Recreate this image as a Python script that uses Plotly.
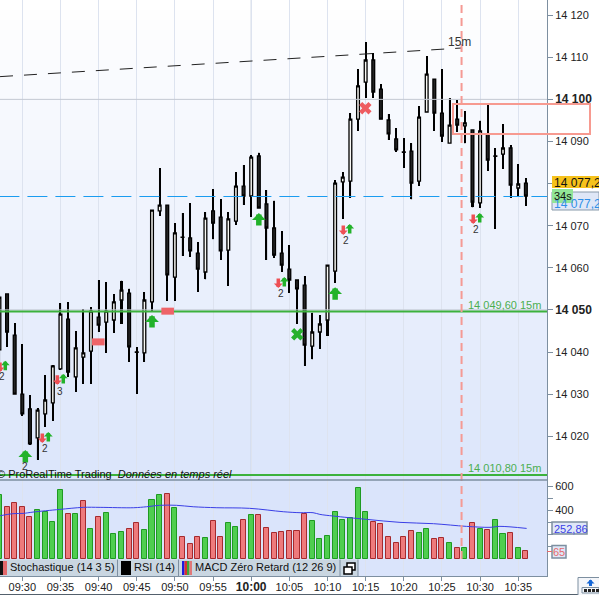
import plotly.graph_objects as go

# minutes since 09:30 for the first bar (one bar per minute)
first_minute = -3
# candles, prices are offset from 14000
high  = [53.5,53.8,46.9,41.9,29.8,26.7,34.5,36.9,51.6,51.9,45.0,50.2,50.7,57.1,56.6,53.8,56.9,55.0,41.2,54.25,73.7,83.7,74.9,70.6,73.0,75.4,66.1,73.25,78.7,76.3,73.25,82.75,84.4,86.8,87.3,78.5,75.9,68.7,65.4,57.1,58.05,49.3,48.8,60.65,80.85,82.75,96.75,107.2,113.6,111.0,103.65,96.5,93.2,90.8,89.6,98.4,110.3,104.8,107.2,100.3,99.85,97.25,92.75,94.9,99.15,88.45,94.15,89.15,84.65,81.3]
body_top = [53.0,53.8,44.0,30.0,26.5,26.2,28.6,36.7,49.0,47.8,41.0,39.8,49.7,48.3,49.7,51.9,54.7,54.0,40.0,52.35,73.7,74.9,74.9,68.3,67.3,67.1,63.5,71.8,73.5,72.05,71.6,79.4,79.4,86.3,86.55,75.15,69.45,63.5,59.7,57.1,55.9,44.75,46.65,60.65,80.1,81.55,95.3,103.2,109.35,109.35,102.45,95.1,90.6,87.5,87.7,95.8,106.0,104.8,96.75,93.9,95.3,94.4,92.75,92.5,91.8,86.55,88.45,88.45,79.9,80.1]
body_bot = [40.5,44.75,30.0,25.3,18.2,19.6,25.3,27.9,36.0,35.25,34.1,38.8,40.2,46.4,47.1,47.6,52.35,41.2,39.9,39.8,51.9,73.5,58.3,57.8,67.2,64.0,59.7,59.0,70.6,64.0,64.2,71.1,77.05,77.05,74.2,69.45,63.0,60.65,57.1,55.0,41.65,41.4,44.75,47.6,59.2,80.4,80.6,95.3,104.1,101.75,95.3,91.8,88.0,87.4,80.1,80.6,97.0,96.75,91.3,89.6,93.9,93.7,75.6,75.4,85.6,86.45,87.0,79.65,78.95,77.05]
low   = [35.0,41.2,30.0,24.8,17.9,14.4,22.2,23.6,35.7,34.1,30.5,32.4,32.4,44.75,39.8,44.5,46.65,37.6,30.0,37.6,49.5,72.3,52.1,52.1,62.8,62.6,54.25,57.3,66.8,61.85,55.7,70.2,74.9,72.05,74.2,61.85,62.3,59.0,54.0,46.65,36.7,38.3,40.7,43.8,56.4,71.6,76.6,92.5,100.3,100.3,95.3,90.35,87.5,83.7,76.3,79.4,97.0,92.5,89.9,89.6,92.25,89.6,74.4,74.2,83.0,69.2,83.45,76.6,77.05,74.7]
# 1 = white (rising) candle, 0 = black (falling) candle
rising = [1,0,0,0,0,1,1,1,1,0,1,1,1,0,1,1,1,0,1,1,1,1,0,1,1,0,0,1,0,0,1,1,0,1,0,0,0,0,0,0,0,1,1,1,1,1,1,1,1,0,0,0,0,1,0,1,1,0,0,1,0,1,0,1,0,1,1,0,1,0]

volume = [529,427,460,427,344,402,391,303,568,369,369,477,245,344,377,204,220,245,295,237,488,526,534,419,179,121,179,171,311,179,295,262,320,361,361,253,212,220,229,229,369,311,163,187,386,320,336,584,386,303,287,179,129,179,229,212,245,163,171,129,88,88,295,245,237,320,204,212,88,65]
vol_up = [1,0,0,0,0,1,1,1,1,0,1,0,1,0,1,1,1,0,0,1,1,1,0,1,0,0,0,1,0,0,1,1,0,1,0,0,0,0,0,0,0,1,1,1,1,1,1,1,1,0,0,0,0,0,0,1,1,0,0,1,0,1,0,1,0,1,1,0,1,0]
ma_minute = [-2.9,-1.2,0.1,1.4,4.9,8.0,10.2,14.6,16.3,18.0,20.2,22.4,25.5,29.8,34.2,36.4,38.1,39.0,40.8,45.1,49.5,53.9,58.2,61.3,62.6,66.1]
ma_value  = [358,375,377,388,410,427,427,424,432,444,444,432,424,419,391,383,383,369,355,328,303,292,270,262,270,253]

# trend line, levels
trend_minute = [-2.92, 57.56]
trend_price = [14105.4, 14112.2]
level_high = 14049.6
level_low = 14010.8
last_price = 14076.93
gray_levels = [14100, 14050]
box_prices = [14091.75, 14098.9]
cursor_minute = 57.0

# signal markers: minute, price
big_up_m = [0.4, 17, 31, 41]
big_up_p = [14016.7, 14048.8, 14073.0, 14055.4]
small_up_m = [-2.23, 5.37, 3.41, 34.34, 42.91, 59.95]
small_up_p = [14037.9, 14034.8, 14021.0, 14057.8, 14070.4, 14073.0]
small_dn_m = [-2.92, 4.59, 2.62, 33.55, 42.07, 59.1]
small_dn_p = [14035.25, 14032.2, 14018.4, 14055.2, 14067.8, 14070.4]
count_m = [-2.7, 4.94, 3.01, 33.94, 42.46, 59.5, 0.4]
count_p = [14034.1, 14030.7, 14017.0, 14053.85, 14066.4, 14069.05, 14012.7]
count_txt = ["2", "3", "2", "2", "2", "2", "2"]
cross_red = (44.96, 14097.9)
cross_green = (36.04, 14044.2)
ticket_m = [9.96, 19.05]
ticket_p = [14042.4, 14049.7]

time_minutes = list(range(0, 70, 5))
time_labels = ["09:30","09:35","09:40","09:45","09:50","09:55","10:00","10:05","10:10","10:15","10:20","10:25","10:30","10:35"]
price_ticks = [14120,14110,14100,14090,14080,14070,14060,14050,14040,14030,14020]
price_labels = ["14 120","14 110","14 100","14 090","","14 070","14 060","14 050","14 040","14 030","14 020"]
vol_ticks = [600,500,400,300,200,100]
vol_labels = ["600","","400","","",""]

W, H = 599, 595
PLOT_R = 547
MAIN_B, VOL_B = 480, 576
FONT = "Liberation Sans"
px = lambda v: v / W
py = lambda v: 1 - v / H

minutes = [first_minute + i for i in range(len(high))]
opens = [14000 + (b if r else t) for t, b, r in zip(body_top, body_bot, rising)]
closes = [14000 + (t if r else b) for t, b, r in zip(body_top, body_bot, rising)]

fig = go.Figure()

fig.add_trace(go.Bar(x=minutes, y=volume, xaxis="x2", yaxis="y2", width=0.66,
                     marker=dict(color=["#4fce4f" if u else "#ee7a7c" for u in vol_up],
                                 line=dict(color=["#1f9a22" if u else "#a52a2e" for u in vol_up], width=1))))
fig.add_trace(go.Scatter(x=ma_minute, y=ma_value, xaxis="x2", yaxis="y2", mode="lines",
                         line=dict(color="#3a3fe6", width=1, shape="spline")))

# wicks: thin bars drawn under the candle bodies
fig.add_trace(go.Bar(x=minutes, base=[14000 + v for v in low], y=[h - l for h, l in zip(high, low)],
                     width=0.27, marker=dict(color="#000", line=dict(width=0)), xaxis="x", yaxis="y"))
fig.add_trace(go.Candlestick(x=minutes, open=opens, close=closes,
                             high=[14000 + v for v in high], low=[14000 + v for v in low],
                             whiskerwidth=0,
                             increasing=dict(fillcolor="#f8f8f4", line=dict(color="#000", width=1.3)),
                             decreasing=dict(fillcolor="#242424", line=dict(color="#000", width=1.3)),
                             xaxis="x", yaxis="y"))

xs = [first_minute, 69]
for lv in gray_levels:
    fig.add_trace(go.Scatter(x=xs, y=[lv, lv], mode="lines", line=dict(color="#c3c8d2", width=1)))
fig.add_trace(go.Scatter(x=xs, y=[last_price] * 2, mode="lines",
                         line=dict(color="#1a9cf0", width=1, dash="20px,8px")))
for lv in (level_high, level_low):
    fig.add_trace(go.Scatter(x=xs, y=[lv] * 2, mode="lines", line=dict(color="#3cb23c", width=2)))
fig.add_trace(go.Scatter(x=trend_minute, y=trend_price, mode="lines",
                         line=dict(color="#222", width=1, dash="13px,11px")))
fig.add_trace(go.Scatter(x=ticket_m, y=ticket_p, mode="markers",
                         marker=dict(symbol="line-ew", size=9, line=dict(color="#ee6468", width=7))))
fig.add_trace(go.Scatter(x=[cross_red[0]], y=[cross_red[1]], mode="markers",
                         marker=dict(symbol="x", size=11, color="#ee5c60", line=dict(width=0))))
fig.add_trace(go.Scatter(x=[cross_green[0]], y=[cross_green[1]], mode="markers",
                         marker=dict(symbol="x", size=11, color="#27b02d", line=dict(width=0))))

ann = []
def arrow(m, p, tail, color, sw, size):
    ann.append(dict(x=m, y=p, xref="x", yref="y", ax=0, ay=tail, text="", showarrow=True,
                    arrowhead=1, arrowwidth=sw, arrowsize=size, arrowcolor=color, standoff=0))
for m, p in zip(big_up_m, big_up_p):
    arrow(m, p, 14, "#22b22a", 5.5, 0.42)
for m, p in zip(small_up_m, small_up_p):
    arrow(m, p, 11, "#22b22a", 3.5, 0.42)
for m, p in zip(small_dn_m, small_dn_p):
    arrow(m, p, -11, "#ee5055", 3.5, 0.42)
for m, p, t in zip(count_m, count_p, count_txt):
    ann.append(dict(x=m, y=p, xref="x", yref="y", text=t, showarrow=False,
                    font=dict(family=FONT, size=10, color="#333")))

def label(x, y, text, size=11, color="#111", anchor="left", **kw):
    ann.append(dict(x=px(x), y=py(y), xref="paper", yref="paper", text=text, showarrow=False,
                    xanchor=anchor, yanchor="middle", font=dict(family=FONT, size=size, color=color),
                    align="left", borderpad=0, borderwidth=0, **kw))

label(541, 304.5, "14 049,60 15m", color="#4cae50", anchor="right")
label(541, 468, "14 010,80 15m", color="#4cae50", anchor="right")
label(448, 42.5, "15m", size=12, color="#333")
label(-3, 474, "© ProRealTime Trading  <i>Données en temps réel</i>", color="#111")

shapes = []
def rect(x0, y0, x1, y1, fill="rgba(0,0,0,0)", line=None, w=1, layer="above"):
    shapes.append(dict(type="rect", xref="paper", yref="paper", x0=px(x0), x1=px(x1), y0=py(y0), y1=py(y1),
                       fillcolor=fill, line=dict(color=line or "rgba(0,0,0,0)", width=w if line else 0), layer=layer))

# background gradient of the price panel
steps = 48
for i in range(steps):
    t = i / (steps - 1)
    c = "rgb(%d,%d,%d)" % (255 - 35 * t, 255 - 25 * t, 255 - 4 * t)
    rect(0, MAIN_B * i / steps, PLOT_R, MAIN_B * (i + 1) / steps + 0.5, fill=c, layer="below")
rect(0, MAIN_B, PLOT_R, VOL_B, fill="#dae4fb", layer="below")

# stronger 10:00 grid line
shapes.append(dict(type="line", xref="x", yref="paper", x0=30, x1=30, y0=py(MAIN_B), y1=1,
                   line=dict(color="#c2cbdb", width=1), layer="below"))

# cursor and zone
shapes.append(dict(type="line", xref="x", yref="paper", x0=cursor_minute + 0.57, x1=cursor_minute + 0.57, y0=py(559), y1=1,
                   line=dict(color="#f59a94", width=2, dash="8px,5px"), layer="above"))
shapes.append(dict(type="rect", xref="paper", yref="y", x0=px(453), x1=px(590), y0=box_prices[0], y1=box_prices[1],
                   line=dict(color="#f79a90", width=2), fillcolor="rgba(255,255,255,0)", layer="above"))

# indicator strip
STRIP_T, STRIP_B = 559.5, 576
rect(0, STRIP_T, 358, STRIP_B, fill="#c9d6e1")
for x in (117.5, 178.5, 340, 358):
    shapes.append(dict(type="line", xref="paper", yref="paper", x0=px(x), x1=px(x), y0=py(STRIP_T), y1=py(STRIP_B),
                       line=dict(color="#7d8fa0", width=1), layer="above"))
rect(0, 561, 3, 575, fill="#111")
rect(3, 561, 7, 575, fill="#e2686b")
rect(121, 561, 131, 575, fill="#000")
for i, c in enumerate(["#1c1ce0", "#d83030", "#3aa83a", "#e07878"]):
    rect(182 + i * 2.5, 561, 184.5 + i * 2.5, 575, fill=c)
label(10, 567, "Stochastique (14 3 5)")
label(134, 567, "RSI (14)")
label(195, 567, "MACD Zéro Retard (12 26 9)")
rect(347, 563, 355, 570, fill="#fff", line="#000", w=1.5)
rect(344, 567, 352, 574, fill="#fff", line="#000", w=1.5)

# panel separators
shapes.append(dict(type="line", xref="paper", yref="paper", x0=0, x1=px(PLOT_R), y0=py(MAIN_B), y1=py(MAIN_B),
                   line=dict(color="#7d8fa0", width=1.5), layer="above"))

# right-hand price tags
rect(552, 192, 599, 210, fill="#dfe7f7", line="#8899aa")
label(554, 204, "14 077,25", size=12, color="#2f8fe8")
rect(552, 176, 599, 188, fill="#f6c21c")
label(554, 182.5, "14 077,25", size=12, color="#111")
rect(552, 189, 573, 203, fill="#92e596")
label(554, 196.5, "34s", color="#111")
rect(552, 522, 587, 534, fill="#dfe7f7", line="#7d8fa0", w=1.5)
label(553.5, 528.5, "252,86", color="#3a3fe6")
rect(552, 545.5, 566, 558, fill="#dfe7f7", line="#7d8fa0", w=1.5)
label(553, 551.5, "65", color="#e66a6c")
shapes.append(dict(type="line", xref="paper", yref="paper", x0=px(547), x1=px(552), y0=py(551.5), y1=py(551.5),
                   line=dict(color="#e66a6c", width=1), layer="above"))

# corner button and bottom rule
shapes.append(dict(type="line", xref="paper", yref="paper", x0=0, x1=1, y0=py(594.5), y1=py(594.5),
                   line=dict(color="#53606c", width=1), layer="above"))
rect(578, 577.5, 601, 596, fill="#f4f6fa", line="#7d8fa0", w=1)
rect(582, 587.5, 599, 593, fill="#f4f6fa", line="#7d8fa0", w=1)
for i in range(4):
    rect(584 + i * 4, 589, 587 + i * 4, 592, fill="#222")
ann.append(dict(x=px(590.5), y=py(579.5), xref="paper", yref="paper", ax=0, ay=8, text="", showarrow=True,
                arrowhead=1, arrowwidth=3, arrowsize=0.45, arrowcolor="#1566d6", standoff=0))

axis_line = "#7d8fa0"
tick_font = dict(family=FONT, size=11, color="#222")
xrange = [(0 - 22.3) / 7.63, (PLOT_R - 22.3) / 7.63]
price_text = [("<b><span style='font-size:12px'>%s</span></b>" % t) if v in gray_levels else t
              for v, t in zip(price_ticks, price_labels)]
time_text = [("<b><span style='font-size:12px'>%s</span></b>" % t) if t == "10:00" else t for t in time_labels]
grid = "#dde3ef"

fig.update_layout(
    width=W, height=H, autosize=False, showlegend=False,
    margin=dict(l=0, r=0, t=0, b=0, pad=0, autoexpand=False),
    paper_bgcolor="#fff", plot_bgcolor="rgba(0,0,0,0)",
    boxgap=0.48, bargap=0, barmode="overlay", hovermode=False,
    shapes=shapes, annotations=ann,
    xaxis=dict(domain=[0, px(PLOT_R)], range=xrange, anchor="y", showticklabels=False, ticks="",
               tickmode="array", tickvals=time_minutes, showgrid=True, gridcolor=grid, gridwidth=1,
               zeroline=False, rangeslider=dict(visible=False)),
    xaxis2=dict(domain=[0, px(PLOT_R)], range=xrange, anchor="y2", tickmode="array", tickvals=time_minutes,
                ticktext=time_text, tickfont=tick_font, ticks="outside", ticklen=4, tickcolor=axis_line, tickangle=0,
                ticklabelstandoff=-3,
                showgrid=True, gridcolor=grid, gridwidth=1, zeroline=False, showline=True, linecolor=axis_line, linewidth=1),
    yaxis=dict(domain=[py(MAIN_B), 1], range=[14123.6 - 0.2375 * MAIN_B, 14123.6], side="right", anchor="x",
               tickmode="array", tickvals=price_ticks, ticktext=price_text, tickfont=tick_font,
               ticks="outside", ticklen=5, tickcolor=axis_line, showgrid=False, zeroline=False,
               showline=True, linecolor=axis_line, linewidth=1),
    yaxis2=dict(domain=[py(VOL_B), py(MAIN_B)], range=[-140, 653], side="right", anchor="x2",
                tickmode="array", tickvals=vol_ticks, ticktext=vol_labels, tickfont=tick_font,
                ticks="outside", ticklen=5, tickcolor=axis_line, showgrid=False, zeroline=False,
                showline=True, linecolor=axis_line, linewidth=1),
)

fig.write_html("out.html", config=dict(displayModeBar=False),
               post_script="document.body.style.margin='0';document.body.style.overflow='hidden';")
